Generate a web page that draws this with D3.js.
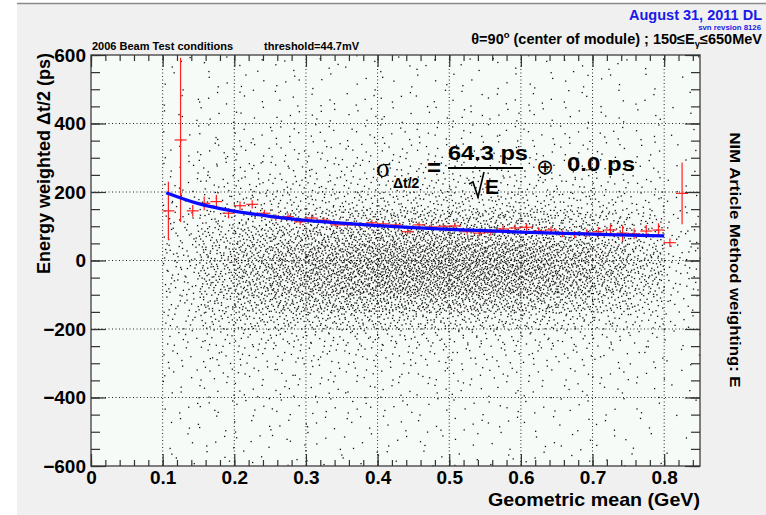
<!DOCTYPE html>
<html lang="en">
<head>
<meta charset="UTF-8">
<title>Energy weighted dt/2 vs geometric mean</title>
<script src="https://d3js.org/d3.v7.min.js"></script>
<style>
  body { margin: 0; background: #fff; }
  text { font-family: "Liberation Sans", Arial, Helvetica, sans-serif; font-weight: bold; }
</style>
</head>
<body>
<div id="chart"></div>
<script>
// ---- values ----
// red points: width of the dt/2 distribution in 1/60 GeV bins
const binX = [0.108, 0.125, 0.142, 0.158, 0.175, 0.192, 0.208, 0.225, 0.242, 0.258,
              0.275, 0.292, 0.308, 0.325, 0.342, 0.358, 0.375, 0.392, 0.408, 0.425,
              0.442, 0.458, 0.475, 0.492, 0.508, 0.525, 0.542, 0.558, 0.575, 0.592,
              0.608, 0.625, 0.642, 0.658, 0.675, 0.692, 0.708, 0.725, 0.742, 0.758,
              0.775, 0.792, 0.808, 0.825];
const sigmaVals = [145, 352, 145, 167, 172, 138, 160, 164, 138, 125,
                   128, 113, 124, 118, 104, 104, 104, 110, 107, 104,
                   84, 104, 98, 100, 101, 84, 80, 82, 92, 95,
                   97, 86, 89, 78, 76, 80, 84, 89, 80, 78,
                   86, 89, 52, 196];
const sigmaErr = [85, 240, 17, 20, 19, 15, 12, 12, 10, 10,
                  10, 9, 10, 9, 8, 8, 8, 9, 9, 8,
                  8, 9, 9, 9, 9, 9, 9, 9, 10, 10,
                  10, 10, 10, 10, 10, 11, 14, 16, 22, 16,
                  18, 20, 12, 90];
const binHalfWidth = 1 / 120;

// blue fit curve, 64.3 ps / sqrt(E), as drawn
const fitE = [0.105, 0.15, 0.2, 0.25, 0.3, 0.35, 0.4, 0.45, 0.5, 0.55, 0.6, 0.65, 0.7, 0.75, 0.8];
const fitSigma = [198, 166, 144, 129, 117, 109, 102, 96, 91, 87, 83, 80, 77, 74, 72];

// scatter (TH2 "scat"): entries per 0.05 GeV x 50 ps cell, rows from +600 down to -600
const scatXEdges = [0.10, 0.15, 0.20, 0.25, 0.30, 0.35, 0.40, 0.45, 0.50, 0.55, 0.60, 0.65, 0.70, 0.75, 0.80];
const scatYEdges = [600, 550, 500, 450, 400, 350, 300, 250, 200, 150, 100, 50,
                    0, -50, -100, -150, -200, -250, -300, -350, -400, -450, -500, -550];
const scatCounts = [
  [3, 3, 3, 3, 3, 3, 3, 3, 3, 3, 3, 3, 3, 2, 1],
  [3, 3, 3, 4, 3, 3, 3, 3, 3, 3, 3, 3, 3, 2, 1],
  [3, 4, 4, 4, 4, 4, 4, 4, 4, 4, 4, 4, 3, 3, 1],
  [4, 4, 5, 5, 5, 5, 5, 5, 5, 5, 5, 4, 4, 3, 2],
  [4, 5, 6, 6, 6, 6, 6, 6, 6, 6, 6, 5, 5, 4, 2],
  [5, 7, 7, 8, 8, 8, 8, 8, 8, 8, 7, 7, 6, 5, 2],
  [6, 9, 10, 10, 11, 11, 11, 11, 11, 11, 10, 9, 8, 6, 3],
  [8, 12, 14, 15, 16, 16, 16, 16, 16, 15, 14, 13, 11, 8, 3],
  [10, 16, 20, 22, 24, 25, 26, 26, 26, 25, 22, 20, 16, 12, 4],
  [14, 26, 34, 40, 44, 48, 50, 52, 52, 50, 45, 40, 32, 22, 7],
  [17, 34, 48, 58, 66, 72, 76, 78, 78, 76, 70, 60, 48, 32, 10],
  [19, 42, 60, 74, 84, 92, 100, 104, 104, 100, 92, 80, 62, 40, 12],
  [19, 44, 66, 80, 92, 102, 110, 114, 114, 110, 100, 84, 66, 42, 12],
  [18, 42, 60, 74, 84, 92, 100, 102, 102, 96, 86, 74, 56, 38, 11],
  [15, 34, 48, 56, 64, 66, 68, 68, 66, 64, 56, 48, 38, 25, 8],
  [12, 24, 32, 34, 36, 36, 36, 34, 34, 32, 30, 25, 20, 15, 6],
  [9, 14, 16, 17, 17, 17, 16, 16, 15, 14, 13, 12, 10, 8, 4],
  [7, 10, 11, 11, 11, 11, 10, 10, 10, 9, 9, 8, 7, 6, 3],
  [6, 8, 8, 8, 8, 8, 7, 7, 7, 7, 6, 6, 5, 4, 2],
  [5, 6, 6, 6, 6, 6, 6, 5, 5, 5, 5, 5, 4, 3, 2],
  [4, 5, 5, 5, 5, 5, 5, 4, 4, 4, 4, 4, 3, 3, 1],
  [4, 4, 4, 4, 4, 4, 4, 4, 4, 4, 3, 3, 3, 2, 1],
  [3, 4, 4, 4, 4, 4, 3, 3, 3, 3, 3, 3, 3, 2, 1],
  [3, 3, 3, 3, 3, 3, 3, 3, 3, 3, 3, 3, 2, 2, 1]
];
const cellW = 0.05, cellH = 50;

const xTicks = [0, 0.1, 0.2, 0.3, 0.4, 0.5, 0.6, 0.7, 0.8];
const yTicks = [-600, -400, -200, 0, 200, 400, 600];
const xMinorTicks = d3.range(0, 0.851, 0.02);
const yMinorTicks = d3.range(-600, 601, 50);

// ---- layout ----
const W = 766, H = 515;
const fl = 91, fr = 700, ft = 55, fb = 466;

const svg = d3.select('#chart').append('svg')
    .attr('width', W)
    .attr('height', H);

// canvas
svg.append('rect').attr('x', 17).attr('y', 3).attr('width', W - 17).attr('height', H - 3)
    .attr('fill', '#f0f0f0');
svg.append('line').attr('x1', 17).attr('x2', W).attr('y1', 3.5).attr('y2', 3.5)
    .attr('stroke', '#8a8a8a').attr('stroke-width', 1.5);

const x = d3.scaleLinear().domain([0, 0.85]).range([fl, fr]);
const y = d3.scaleLinear().domain([-600, 600]).range([fb, ft]);

// frame fill
svg.append('rect').attr('x', fl).attr('y', ft).attr('width', fr - fl).attr('height', fb - ft)
    .attr('fill', '#f7fbf7');

// dotted grid
const grid = svg.append('g').attr('stroke', '#222').attr('stroke-width', 1)
    .attr('stroke-dasharray', '1,2.5');
grid.selectAll('.gx').data(xTicks.filter(d => d > 0)).enter().append('line')
    .attr('x1', d => x(d)).attr('x2', d => x(d)).attr('y1', ft).attr('y2', fb);
grid.selectAll('.gy').data(yTicks.filter(d => d > -600 && d < 600)).enter().append('line')
    .attr('x1', fl).attr('x2', fr).attr('y1', d => y(d)).attr('y2', d => y(d));

// scatter points, laid out inside their cell with a Halton sequence (as ROOT's scat does)
function halton(i, b) {
    let f = 1, r = 0;
    while (i > 0) { f /= b; r += f * (i % b); i = Math.floor(i / b); }
    return r;
}
const dots = [];
scatCounts.forEach((row, r) => row.forEach((n, c) => {
    for (let k = 0; k < n; k++) {
        const idx = 1 + k + (r * row.length + c) * 97;
        dots.push({ e: scatXEdges[c] + halton(idx, 2) * cellW, t: scatYEdges[r] - halton(idx, 3) * cellH });
    }
}));
svg.append('g').attr('fill', '#111')
    .selectAll('rect').data(dots).enter().append('rect')
    .attr('x', d => x(d.e)).attr('y', d => y(d.t))
    .attr('width', 1.3).attr('height', 1.3);

// red profile points with error bars
const prof = binX.map((e, i) => ({ e: e, s: sigmaVals[i], err: sigmaErr[i] }));
const pg = svg.append('g').attr('stroke', '#ff2020').attr('stroke-width', 1.2);
pg.selectAll('.h').data(prof).enter().append('line')
    .attr('x1', d => x(d.e - binHalfWidth)).attr('x2', d => x(d.e + binHalfWidth))
    .attr('y1', d => y(d.s)).attr('y2', d => y(d.s));
pg.selectAll('.v').data(prof).enter().append('line')
    .attr('x1', d => x(d.e)).attr('x2', d => x(d.e))
    .attr('y1', d => y(Math.min(600, d.s + d.err))).attr('y2', d => y(d.s - d.err));

// blue fit
const fit = fitE.map((e, i) => ({ e: e, s: fitSigma[i] }));
svg.append('path').datum(fit)
    .attr('fill', 'none').attr('stroke', '#0a0aff').attr('stroke-width', 3.2)
    .attr('d', d3.line().x(d => x(d.e)).y(d => y(d.s)).curve(d3.curveMonotoneX));

// frame and axes
svg.append('rect').attr('x', fl).attr('y', ft).attr('width', fr - fl).attr('height', fb - ft)
    .attr('fill', 'none').attr('stroke', '#555').attr('stroke-width', 1.5);

function styleAxis(g) {
    g.select('.domain').remove();
    g.selectAll('line').attr('stroke', '#333').attr('stroke-width', 1.2);
    g.selectAll('text').attr('font-size', 19).attr('fill', '#000')
        .style('font-family', '"Liberation Sans", Arial, sans-serif').style('font-weight', 'bold');
}
svg.append('g').attr('transform', `translate(0,${fb})`)
    .call(d3.axisBottom(x).tickValues(xTicks).tickSizeInner(-12).tickSizeOuter(0).tickPadding(5)
        .tickFormat(d => d === 0 ? '0' : d3.format('.1f')(d)))
    .call(styleAxis);
svg.append('g').attr('transform', `translate(0,${fb})`)
    .call(d3.axisBottom(x).tickValues(xMinorTicks).tickSizeInner(-6).tickSizeOuter(0).tickFormat(''))
    .call(styleAxis);
svg.append('g').attr('transform', `translate(0,${ft})`)
    .call(d3.axisTop(x).tickValues(xTicks).tickSizeInner(-12).tickSizeOuter(0).tickFormat(''))
    .call(styleAxis);
svg.append('g').attr('transform', `translate(0,${ft})`)
    .call(d3.axisTop(x).tickValues(xMinorTicks).tickSizeInner(-6).tickSizeOuter(0).tickFormat(''))
    .call(styleAxis);
svg.append('g').attr('transform', `translate(${fl},0)`)
    .call(d3.axisLeft(y).tickValues(yTicks).tickSizeInner(-15).tickSizeOuter(0).tickPadding(5))
    .call(styleAxis);
svg.append('g').attr('transform', `translate(${fl},0)`)
    .call(d3.axisLeft(y).tickValues(yMinorTicks).tickSizeInner(-9).tickSizeOuter(0).tickFormat(''))
    .call(styleAxis);
svg.append('g').attr('transform', `translate(${fr},0)`)
    .call(d3.axisRight(y).tickValues(yTicks).tickSizeInner(-15).tickSizeOuter(0).tickFormat(''))
    .call(styleAxis);
svg.append('g').attr('transform', `translate(${fr},0)`)
    .call(d3.axisRight(y).tickValues(yMinorTicks).tickSizeInner(-9).tickSizeOuter(0).tickFormat(''))
    .call(styleAxis);

// axis titles
svg.append('text').attr('x', fr).attr('y', 506).attr('text-anchor', 'end')
    .attr('font-size', 18.5).attr('textLength', 212).attr('lengthAdjust', 'spacingAndGlyphs')
    .text('Geometric mean (GeV)');
svg.append('text').attr('transform', 'translate(50,53) rotate(-90)').attr('text-anchor', 'end')
    .attr('font-size', 18).text('Energy weighted \u0394t/2 (ps)');

// right-hand note
svg.append('text').attr('transform', 'translate(730,260) rotate(90)').attr('text-anchor', 'middle')
    .attr('font-size', 15).attr('textLength', 255).attr('lengthAdjust', 'spacingAndGlyphs')
    .text('NIM Article Method  weighting: E');

// header texts
svg.append('text').attr('x', 762).attr('y', 20).attr('text-anchor', 'end')
    .attr('font-size', 14.5).attr('fill', '#1a1ae8').text('August 31, 2011 DL');
svg.append('text').attr('x', 761).attr('y', 29.5).attr('text-anchor', 'end')
    .attr('font-size', 7.8).attr('fill', '#1a1ae8').text('svn revsion 8126');
const th = svg.append('text').attr('x', 762).attr('y', 44).attr('text-anchor', 'end')
    .attr('font-size', 14.5);
th.append('tspan').text('\u03b8=90');
th.append('tspan').attr('dy', -6).attr('font-size', 9.5).text('o');
th.append('tspan').attr('dy', 6).text(' (center of module) ;  150\u2264E');
th.append('tspan').attr('dy', 3).attr('font-size', 9.5).text('\u03b3');
th.append('tspan').attr('dy', -3).text('\u2264650MeV');

svg.append('text').attr('x', 92).attr('y', 50).attr('font-size', 11).text('2006 Beam Test conditions');
svg.append('text').attr('x', 264).attr('y', 50).attr('font-size', 11).text('threshold=44.7mV');

// fit formula
svg.append('text').attr('x', 376).attr('y', 177).attr('font-size', 27)
    .style('font-family', '"Liberation Serif", "DejaVu Serif", serif').style('font-weight', 'normal')
    .text('\u03c3');
svg.append('text').attr('x', 393).attr('y', 188).attr('font-size', 14).text('\u0394t/2');
svg.append('text').attr('x', 427).attr('y', 176).attr('font-size', 24).text('=');
svg.append('text').attr('x', 448).attr('y', 160).attr('font-size', 21)
    .attr('textLength', 80).attr('lengthAdjust', 'spacingAndGlyphs').text('64.3 ps');
svg.append('line').attr('x1', 448).attr('x2', 523).attr('y1', 168).attr('y2', 168)
    .attr('stroke', '#000').attr('stroke-width', 2.2);
svg.append('path').attr('d', 'M469,184 L473,182 L478,197 L484,172')
    .attr('fill', 'none').attr('stroke', '#000').attr('stroke-width', 1.6);
svg.append('text').attr('x', 485).attr('y', 194).attr('font-size', 21).text('E');
svg.append('text').attr('x', 545).attr('y', 174).attr('text-anchor', 'middle').attr('font-size', 21)
    .style('font-family', '"DejaVu Sans", sans-serif').style('font-weight', 'normal').text('\u2295');
svg.append('text').attr('x', 567).attr('y', 171).attr('font-size', 21)
    .attr('textLength', 68).attr('lengthAdjust', 'spacingAndGlyphs').text('0.0 ps');
</script>
</body>
</html>
